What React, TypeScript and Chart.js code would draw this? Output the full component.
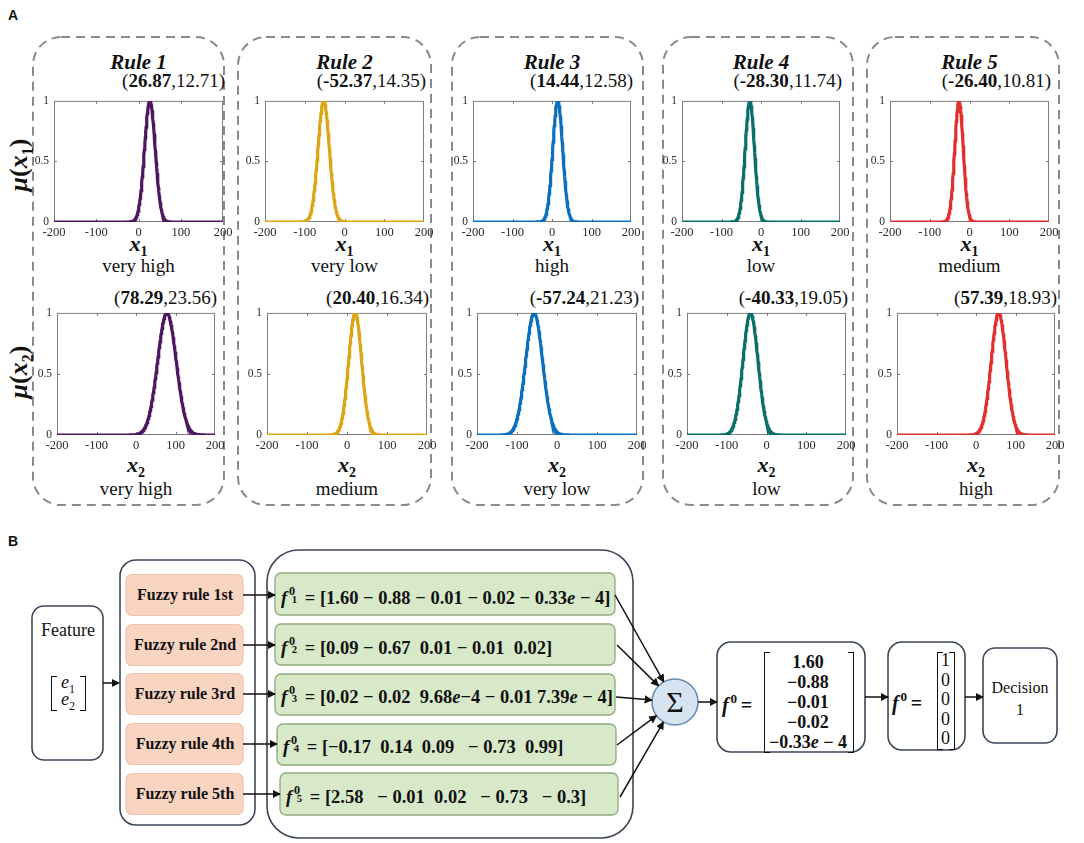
import React, { useEffect, useRef } from 'react';
import { Chart, registerables } from 'chart.js';

Chart.register(...registerables);
Chart.defaults.font.family = '"Liberation Serif", "Times New Roman", serif';

// ---------------- data ----------------
const ruleTitles = ['Rule 1', 'Rule 2', 'Rule 3', 'Rule 4', 'Rule 5'];
const centersX1 = [26.87, -52.37, 14.44, -28.3, -26.4];
const sigmasX1 = [12.71, 14.35, 12.58, 11.74, 10.81];
const centersX2 = [78.29, 20.4, -57.24, -40.33, 57.39];
const sigmasX2 = [23.56, 16.34, 21.23, 19.05, 18.93];
const termsX1 = ['very high', 'very low', 'high', 'low', 'medium'];
const termsX2 = ['very high', 'medium', 'very low', 'low', 'high'];
const ruleColors = ['#4d1660', '#dba514', '#0b6fbd', '#0a6e6a', '#e0302e'];
const xTickValues = [-200, -100, 0, 100, 200];
const yTickValues = [0, 0.5, 1];

const fuzzyRuleNames = ['Fuzzy rule 1st', 'Fuzzy rule 2nd', 'Fuzzy rule 3rd', 'Fuzzy rule 4th', 'Fuzzy rule 5th'];
const ruleOutputVectors = [
  '[1.60 − 0.88 − 0.01 − 0.02 − 0.33e − 4]',
  '[0.09 − 0.67  0.01 − 0.01  0.02]',
  '[0.02 − 0.02  9.68e−4 − 0.01 7.39e − 4]',
  '[−0.17  0.14  0.09   − 0.73  0.99]',
  '[2.58   − 0.01  0.02   − 0.73   − 0.3]',
];
const aggregatedOutput = ['1.60', '−0.88', '−0.01', '−0.02', '−0.33e − 4'];
const crispOutput = ['1', '0', '0', '0', '0'];
const decisionLines = ['Decision', '1'];

// ---------------- layout (styles only) ----------------
const SERIF = '"Liberation Serif", "Times New Roman", serif';
const SANS = '"Liberation Sans", Arial, sans-serif';
const BOX_X = [[33, 224], [238, 431], [452, 643], [663, 853], [867, 1059]];
const PLOT_TOP_X = [[54, 223], [265, 424], [473, 631], [682, 840], [890, 1049]];
const PLOT_BOT_X = [[57, 215], [267, 427], [477, 637], [687, 846], [897, 1055]];
const TOP_Y = [97, 222];
const BOT_Y = [309, 435];

const framePlugin = {
  id: 'frame',
  beforeDatasetsDraw(chart: any) {
    const { ctx, chartArea: a, scales } = chart;
    ctx.save();
    ctx.strokeStyle = '#7d7d7d';
    ctx.lineWidth = 1;
    ctx.strokeRect(a.left + 0.5, a.top + 0.5, a.right - a.left - 1, a.bottom - a.top - 1);
    const seg = (x1: number, y1: number, x2: number, y2: number) => {
      ctx.beginPath();
      ctx.moveTo(x1, y1);
      ctx.lineTo(x2, y2);
      ctx.stroke();
    };
    xTickValues.slice(1, -1).forEach((v) => {
      const x = Math.round(scales.x.getPixelForValue(v)) + 0.5;
      seg(x, a.bottom, x, a.bottom - 3);
      seg(x, a.top, x, a.top + 3);
    });
    yTickValues.slice(1, -1).forEach((v) => {
      const y = Math.round(scales.y.getPixelForValue(v)) + 0.5;
      seg(a.left, y, a.left + 3, y);
      seg(a.right, y, a.right - 3, y);
    });
    ctx.restore();
  },
};

type MiniProps = { pl: number; pr: number; pt: number; pb: number; center: number; sigma: number; color: string };

function MiniChart({ pl, pr, pt, pb, center, sigma, color }: MiniProps) {
  const ref = useRef<HTMLCanvasElement>(null);
  const YW = 26, PT = 8, PR = 14, XH = 20;
  const w = pr - pl + YW + PR;
  const h = pb - pt + PT + XH;
  useEffect(() => {
    // Gaussian membership function defined by the (centre, sigma) pair printed above each plot
    const pts: { x: number; y: number }[] = [];
    for (let x = -200; x <= 200; x += 1) {
      pts.push({ x, y: Math.exp(-((x - center) ** 2) / (2 * sigma * sigma)) });
    }
    const chart = new Chart(ref.current as HTMLCanvasElement, {
      type: 'line',
      data: {
        datasets: [
          { data: pts, borderColor: color, borderWidth: 3.2, pointRadius: 0, fill: false, tension: 0 },
        ],
      },
      options: {
        animation: false,
        responsive: false,
        maintainAspectRatio: false,
        layout: { padding: { top: PT, right: PR, left: 0, bottom: 0 } },
        plugins: { legend: { display: false }, tooltip: { enabled: false } },
        scales: {
          x: {
            type: 'linear',
            min: -200,
            max: 200,
            afterBuildTicks: (s: any) => {
              s.ticks = xTickValues.map((v) => ({ value: v }));
            },
            ticks: { autoSkip: false, maxRotation: 0, font: { family: SERIF, size: 12.5 }, color: '#2a2a2a', padding: 3, callback: (v: any) => String(v) },
            grid: { display: false, drawTicks: false, tickLength: 0 },
            border: { display: false },
            afterFit: (s: any) => {
              s.height = XH;
            },
          },
          y: {
            type: 'linear',
            min: 0,
            max: 1,
            afterBuildTicks: (s: any) => {
              s.ticks = yTickValues.map((v) => ({ value: v }));
            },
            ticks: { autoSkip: false, font: { family: SERIF, size: 11.5 }, color: '#2a2a2a', padding: 5, callback: (v: any) => String(v) },
            grid: { display: false, drawTicks: false, tickLength: 0 },
            border: { display: false },
            afterFit: (s: any) => {
              s.width = YW;
            },
          },
        },
      } as any,
      plugins: [framePlugin],
    });
    let alive = true;
    if ((document as any).fonts && (document as any).fonts.ready) {
      (document as any).fonts.ready.then(() => {
        if (alive) chart.update();
      });
    }
    return () => {
      alive = false;
      chart.destroy();
    };
  }, [center, sigma, color]);
  return (
    <canvas
      ref={ref}
      width={w}
      height={h}
      style={{ position: 'absolute', left: pl - YW, top: pt - PT, width: w, height: h }}
    />
  );
}

type TProps = { x: number; y: number; anchor?: 'center' | 'left' | 'right'; style?: React.CSSProperties; children: React.ReactNode };
function T({ x, y, anchor = 'center', style, children }: TProps) {
  const tr = anchor === 'center' ? 'translate(-50%,-50%)' : anchor === 'right' ? 'translate(-100%,-50%)' : 'translate(0,-50%)';
  return (
    <div style={{ position: 'absolute', left: x, top: y, transform: tr, whiteSpace: 'pre', lineHeight: 1, fontFamily: SERIF, color: '#111', ...style }}>
      {children}
    </div>
  );
}

const withItalicE = (s: string) =>
  s.split('e').map((part, i) =>
    i === 0 ? (
      <span key={i}>{part}</span>
    ) : (
      <span key={i}>
        <i>e</i>
        {part}
      </span>
    )
  );

function FSym({ idx }: { idx?: string }) {
  return (
    <span>
      <i>f</i>
      <span style={{ position: 'relative', display: 'inline-block', width: idx ? '0.95em' : '0.6em', height: '1em', verticalAlign: 'baseline' }}>
        <span style={{ position: 'absolute', left: '0.14em', top: '0.0em', fontSize: '0.66em' }}>0</span>
        {idx ? <span style={{ position: 'absolute', left: '0.42em', top: '0.86em', fontSize: '0.58em' }}>{idx}</span> : null}
      </span>
    </span>
  );
}

function Bracketed({ x1, x2, y1, y2 }: { x1: number; x2: number; y1: number; y2: number }) {
  const b = '1.6px solid #111';
  return (
    <>
      <div style={{ position: 'absolute', left: x1, top: y1, width: 5, height: y2 - y1, borderLeft: b, borderTop: b, borderBottom: b }} />
      <div style={{ position: 'absolute', left: x2 - 5, top: y1, width: 5, height: y2 - y1, borderRight: b, borderTop: b, borderBottom: b }} />
    </>
  );
}

export default function App() {
  const ruleRowsY = [595, 645, 694, 744, 794];
  const greenBoxes = [
    [275, 573, 615, 615],
    [275, 624, 615, 665],
    [275, 674, 615, 715],
    [277, 724, 616, 765],
    [280, 773, 618, 815],
  ];
  const sumC = { x: 675, y: 702, r: 23 };
  const arrowToSum = (sx: number, sy: number) => {
    const dx = sumC.x - sx, dy = sumC.y - sy;
    const len = Math.hypot(dx, dy);
    return { x2: sumC.x - (dx / len) * sumC.r, y2: sumC.y - (dy / len) * sumC.r };
  };
  const sumStarts = [
    [615, 595],
    [617, 645],
    [616, 697],
    [617, 745],
    [620, 797],
  ];
  const muStyle: React.CSSProperties = { fontSize: 26, fontWeight: 700, transform: 'translate(-50%,-50%) rotate(-90deg)' };

  return (
    <div style={{ position: 'absolute', left: 0, top: 0, width: 1084, height: 843, background: '#fff', overflow: 'hidden', fontFamily: SERIF }}>
      <svg width={1084} height={843} style={{ position: 'absolute', left: 0, top: 0 }}>
        <defs>
          <marker id="ah" viewBox="0 0 10 10" refX="9" refY="5" markerWidth="5.5" markerHeight="5.5" orient="auto">
            <path d="M0,0 L10,5 L0,10 z" fill="#111" />
          </marker>
        </defs>
        {BOX_X.map(([l, r], i) => (
          <rect key={i} x={l} y={37} width={r - l} height={505 - 37} rx={28} ry={28} fill="none" stroke="#8a8a8a" strokeWidth={2} strokeDasharray="9 6" />
        ))}
        {/* panel B containers */}
        <rect x={32} y={606} width={71} height={154} rx={12} fill="#fff" stroke="#3b4658" strokeWidth={1.6} />
        <rect x={120} y={560} width={135} height={265} rx={16} fill="#fff" stroke="#3b4658" strokeWidth={1.6} />
        <rect x={267} y={550} width={366} height={288} rx={32} fill="#fff" stroke="#3b4658" strokeWidth={1.6} />
        {ruleRowsY.map((cy, i) => (
          <rect key={i} x={126} y={cy - 20.5} width={117} height={41} rx={6} fill="#f9d4c0" stroke="#eec3aa" strokeWidth={1.2} />
        ))}
        {greenBoxes.map(([l, t, r, b], i) => (
          <rect key={i} x={l} y={t} width={r - l} height={b - t} rx={6} fill="#d7e9c9" stroke="#8fab7a" strokeWidth={1.3} />
        ))}
        <rect x={717} y={642} width={148} height={110} rx={14} fill="#fff" stroke="#3b4658" strokeWidth={1.6} />
        <rect x={888} y={642} width={77} height={108} rx={14} fill="#fff" stroke="#3b4658" strokeWidth={1.6} />
        <rect x={983} y={648} width={74} height={95} rx={12} fill="#fff" stroke="#3b4658" strokeWidth={1.6} />
        <circle cx={sumC.x} cy={sumC.y} r={sumC.r} fill="#d6e4f2" stroke="#6b8cb2" strokeWidth={1.6} />
        {/* arrows */}
        <line x1={103} y1={683} x2={119} y2={683} stroke="#111" strokeWidth={1.5} markerEnd="url(#ah)" />
        {ruleRowsY.map((cy, i) => (
          <line key={i} x1={243} y1={cy} x2={greenBoxes[i][0]} y2={cy} stroke="#111" strokeWidth={1.5} markerEnd="url(#ah)" />
        ))}
        {sumStarts.map(([sx, sy], i) => {
          const e = arrowToSum(sx, sy);
          return <line key={i} x1={sx} y1={sy} x2={e.x2} y2={e.y2} stroke="#111" strokeWidth={1.5} markerEnd="url(#ah)" />;
        })}
        <line x1={698} y1={702} x2={717} y2={702} stroke="#111" strokeWidth={1.5} markerEnd="url(#ah)" />
        <line x1={865} y1={697} x2={888} y2={697} stroke="#111" strokeWidth={1.5} markerEnd="url(#ah)" />
        <line x1={965} y1={697} x2={983} y2={697} stroke="#111" strokeWidth={1.5} markerEnd="url(#ah)" />
      </svg>

      {/* ---------- Panel A ---------- */}
      <T x={8} y={15} anchor="left" style={{ fontFamily: SANS, fontWeight: 700, fontSize: 14 }}>A</T>
      <T x={21} y={165} style={muStyle}>
        <i>μ</i>(<i>x</i><sub style={{ fontSize: 16 }}>1</sub>)
      </T>
      <T x={21} y={372} style={muStyle}>
        <i>μ</i>(<i>x</i><sub style={{ fontSize: 16 }}>2</sub>)
      </T>

      {ruleTitles.map((title, i) => {
        const [tl, tr] = PLOT_TOP_X[i];
        const [bl, br] = PLOT_BOT_X[i];
        return (
          <React.Fragment key={i}>
            <T x={(tl + tr) / 2} y={62} style={{ fontSize: 21, fontStyle: 'italic', fontWeight: 700 }}>{title}</T>
            <T x={tr + 2} y={80} anchor="right" style={{ fontSize: 19 }}>
              (<b>{centersX1[i].toFixed(2)}</b>,{sigmasX1[i].toFixed(2)})
            </T>
            <T x={br + 2} y={297} anchor="right" style={{ fontSize: 19 }}>
              (<b>{centersX2[i].toFixed(2)}</b>,{sigmasX2[i].toFixed(2)})
            </T>
            <T x={(tl + tr) / 2} y={246} style={{ fontSize: 22, fontWeight: 700 }}>
              <i>x</i><sub style={{ fontSize: 14 }}>1</sub>
            </T>
            <T x={(tl + tr) / 2} y={265} style={{ fontSize: 19 }}>{termsX1[i]}</T>
            <T x={(bl + br) / 2} y={467} style={{ fontSize: 22, fontWeight: 700 }}>
              <i>x</i><sub style={{ fontSize: 14 }}>2</sub>
            </T>
            <T x={(bl + br) / 2} y={488} style={{ fontSize: 19 }}>{termsX2[i]}</T>
          </React.Fragment>
        );
      })}

      {ruleTitles.map((_, i) => (
        <MiniChart key={'t' + i} pl={PLOT_TOP_X[i][0]} pr={PLOT_TOP_X[i][1]} pt={TOP_Y[0]} pb={TOP_Y[1]} center={centersX1[i]} sigma={sigmasX1[i]} color={ruleColors[i]} />
      ))}
      {ruleTitles.map((_, i) => (
        <MiniChart key={'b' + i} pl={PLOT_BOT_X[i][0]} pr={PLOT_BOT_X[i][1]} pt={BOT_Y[0]} pb={BOT_Y[1]} center={centersX2[i]} sigma={sigmasX2[i]} color={ruleColors[i]} />
      ))}

      {/* ---------- Panel B ---------- */}
      <T x={8} y={541} anchor="left" style={{ fontFamily: SANS, fontWeight: 700, fontSize: 14 }}>B</T>
      <T x={68} y={630} style={{ fontSize: 18 }}>Feature</T>
      <Bracketed x1={51} x2={85} y1={676} y2={709} />
      <T x={68} y={684} style={{ fontSize: 18 }}>
        <i>e</i><sub style={{ fontSize: 12 }}>1</sub>
      </T>
      <T x={68} y={701} style={{ fontSize: 18 }}>
        <i>e</i><sub style={{ fontSize: 12 }}>2</sub>
      </T>

      {fuzzyRuleNames.map((name, i) => (
        <T key={i} x={185} y={ruleRowsY[i]} style={{ fontSize: 16, fontWeight: 700 }}>{name}</T>
      ))}
      {ruleOutputVectors.map((vec, i) => (
        <T key={i} x={greenBoxes[i][0] + 6} y={ruleRowsY[i] + 1} anchor="left" style={{ fontSize: 18.5, fontWeight: 700 }}>
          <FSym idx={String(i + 1)} />= {withItalicE(vec)}
        </T>
      ))}

      <T x={675} y={702} style={{ fontSize: 30 }}>Σ</T>

      <T x={722} y={703} anchor="left" style={{ fontSize: 20, fontWeight: 700 }}>
        <FSym />=
      </T>
      <Bracketed x1={764} x2={853} y1={652} y2={751} />
      {aggregatedOutput.map((v, i) => (
        <T key={i} x={808} y={662 + i * 20} style={{ fontSize: 18, fontWeight: 700 }}>{withItalicE(v)}</T>
      ))}

      <T x={892} y={701} anchor="left" style={{ fontSize: 20, fontWeight: 700 }}>
        <FSym />=
      </T>
      <Bracketed x1={937} x2={954} y1={652} y2={748} />
      {crispOutput.map((v, i) => (
        <T key={i} x={945.5} y={660 + i * 19.5} style={{ fontSize: 18 }}>{v}</T>
      ))}

      <T x={1020} y={688} style={{ fontSize: 16 }}>{decisionLines[0]}</T>
      <T x={1020} y={710} style={{ fontSize: 16 }}>{decisionLines[1]}</T>
    </div>
  );
}
